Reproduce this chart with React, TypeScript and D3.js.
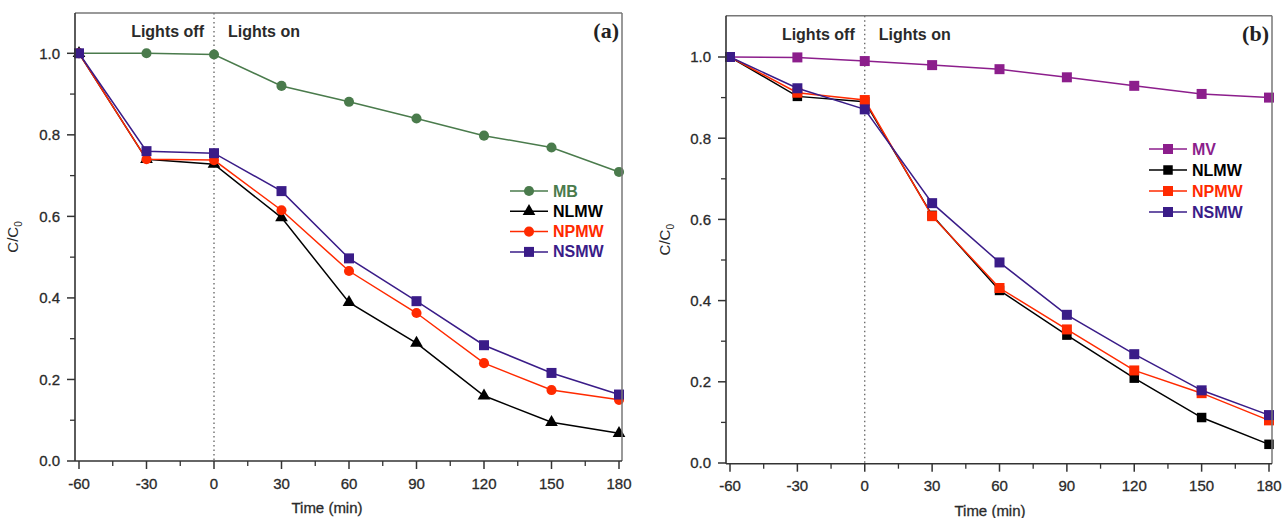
import React from "react";
import * as d3 from "d3";

// time axis (min)
const times = [-60, -30, 0, 30, 60, 90, 120, 150, 180];
const xTicks = [-60, -30, 0, 30, 60, 90, 120, 150, 180];
const yTicks = [0, 0.2, 0.4, 0.6, 0.8, 1.0];

// panel (a) C/C0 values
const mbA = [1.0, 1.0, 0.997, 0.92, 0.881, 0.84, 0.798, 0.769, 0.709];
const nlmwA = [1.0, 0.74, 0.728, 0.597, 0.389, 0.289, 0.16, 0.095, 0.068];
const npmwA = [1.0, 0.74, 0.738, 0.615, 0.466, 0.363, 0.24, 0.174, 0.15];
const nsmwA = [1.0, 0.76, 0.755, 0.662, 0.497, 0.392, 0.284, 0.216, 0.163];

// panel (b) C/C0 values
const mvB = [1.0, 0.999, 0.99, 0.98, 0.97, 0.95, 0.929, 0.909, 0.9];
const nlmwB = [1.0, 0.903, 0.89, 0.61, 0.425, 0.315, 0.209, 0.112, 0.046];
const npmwB = [1.0, 0.912, 0.894, 0.608, 0.431, 0.329, 0.228, 0.172, 0.105];
const nsmwB = [1.0, 0.923, 0.871, 0.64, 0.494, 0.365, 0.268, 0.179, 0.118];

const font = "'Liberation Sans', Arial, sans-serif";

type Series = {
  name: string;
  values: number[];
  color: string;
  symbol: d3.SymbolType;
  size: number;
};

const seriesA: Series[] = [
  { name: "MB", values: mbA, color: "#4a7b4c", symbol: d3.symbolCircle, size: 80 },
  { name: "NLMW", values: nlmwA, color: "#000000", symbol: d3.symbolTriangle, size: 70 },
  { name: "NPMW", values: npmwA, color: "#ff2a00", symbol: d3.symbolCircle, size: 80 },
  { name: "NSMW", values: nsmwA, color: "#3a1c88", symbol: d3.symbolSquare, size: 100 },
];

const seriesB: Series[] = [
  { name: "MV", values: mvB, color: "#8c1e8c", symbol: d3.symbolSquare, size: 100 },
  { name: "NLMW", values: nlmwB, color: "#000000", symbol: d3.symbolSquare, size: 90 },
  { name: "NPMW", values: npmwB, color: "#ff2a00", symbol: d3.symbolSquare, size: 100 },
  { name: "NSMW", values: nsmwB, color: "#3a1c88", symbol: d3.symbolSquare, size: 100 },
];

type PanelProps = {
  series: Series[];
  left: number;
  right: number;
  top: number;
  bottom: number;
  y0: number;
  y1: number;
  tag: string;
  legendX: number;
  legendY: number;
  legendStep: number;
  yTitleX: number;
  xTitleX: number;
};

function Panel(p: PanelProps) {
  const x = d3.scaleLinear().domain([-60, 180]).range([p.left + 4, p.right - 3]);
  const y = d3.scaleLinear().domain([0, 1]).range([p.y0, p.y1]);
  const minorX = d3.range(-45, 180, 30);
  const minorY = [0.1, 0.3, 0.5, 0.7, 0.9];
  const line = d3
    .line<number>()
    .x((d, i) => x(times[i]))
    .y((d) => y(d));

  return (
    <g>
      {/* lights off / on divider */}
      <line
        x1={x(0)}
        x2={x(0)}
        y1={p.top}
        y2={p.bottom}
        stroke="#555"
        strokeWidth={1.2}
        strokeDasharray="1.5,3"
      />
      <text x={x(0) - 10} y={p.top + 24} textAnchor="end" fontFamily={font} fontSize={16} fontWeight="bold" fill="#2a2a2a">
        Lights off
      </text>
      <text x={x(0) + 14} y={p.top + 24} fontFamily={font} fontSize={16} fontWeight="bold" fill="#2a2a2a">
        Lights on
      </text>

      {/* series */}
      {p.series.map((s) => (
        <g key={s.name}>
          <path d={line(s.values) || ""} fill="none" stroke={s.color} strokeWidth={1.5} />
          {s.values.map((v, i) => (
            <path
              key={i}
              d={d3.symbol().type(s.symbol).size(s.size)() || ""}
              transform={`translate(${x(times[i])},${y(v)})`}
              fill={s.color}
            />
          ))}
        </g>
      ))}

      {/* frame */}
      <line x1={p.left} x2={p.right} y1={p.top} y2={p.top} stroke="#777" strokeWidth={1.5} />
      <line x1={p.right} x2={p.right} y1={p.top} y2={p.bottom} stroke="#777" strokeWidth={1.5} />
      <line x1={p.left} x2={p.left} y1={p.top} y2={p.bottom} stroke="#333" strokeWidth={1.6} />
      <line x1={p.left} x2={p.right} y1={p.bottom} y2={p.bottom} stroke="#333" strokeWidth={1.6} />

      {/* y ticks */}
      {yTicks.map((t) => (
        <g key={t}>
          <line x1={p.left - 8} x2={p.left} y1={y(t)} y2={y(t)} stroke="#333" strokeWidth={1.5} />
          <text
            x={p.left - 15}
            y={y(t) + 5.4}
            textAnchor="end"
            fontFamily={font}
            fontSize={15}
            fill="#2a2a2a"
            stroke="#2a2a2a"
            strokeWidth={0.3}
          >
            {t.toFixed(1)}
          </text>
        </g>
      ))}
      {minorY.map((t) => (
        <line key={t} x1={p.left - 5} x2={p.left} y1={y(t)} y2={y(t)} stroke="#333" strokeWidth={1.3} />
      ))}

      {/* x ticks */}
      {xTicks.map((t) => (
        <g key={t}>
          <line x1={x(t)} x2={x(t)} y1={p.bottom} y2={p.bottom + 8} stroke="#333" strokeWidth={1.5} />
          <text
            x={x(t)}
            y={p.bottom + 27.5}
            textAnchor="middle"
            fontFamily={font}
            fontSize={15}
            fill="#2a2a2a"
            stroke="#2a2a2a"
            strokeWidth={0.3}
          >
            {t}
          </text>
        </g>
      ))}
      {minorX.map((t) => (
        <line key={t} x1={x(t)} x2={x(t)} y1={p.bottom} y2={p.bottom + 5} stroke="#333" strokeWidth={1.3} />
      ))}

      {/* axis titles */}
      <text
        x={p.xTitleX}
        y={p.bottom + 52}
        textAnchor="middle"
        fontFamily={font}
        fontSize={15}
        fill="#2a2a2a"
        stroke="#2a2a2a"
        strokeWidth={0.3}
      >
        Time (min)
      </text>
      <text
        transform={`translate(${p.yTitleX},${(p.top + p.bottom) / 2}) rotate(-90)`}
        textAnchor="middle"
        fontFamily={font}
        fontSize={15}
        fill="#2a2a2a"
      >
        C/C<tspan fontSize={10} dy={4}>0</tspan>
      </text>

      {/* panel tag */}
      <text
        x={p.right - 3}
        y={p.top + 25}
        textAnchor="end"
        fontFamily="'Liberation Serif', 'Times New Roman', serif"
        fontSize={22}
        fontWeight="bold"
        fill="#222"
      >
        {p.tag}
      </text>

      {/* legend */}
      {p.series.map((s, i) => {
        const ly = p.legendY + i * p.legendStep;
        return (
          <g key={s.name}>
            <line x1={p.legendX} x2={p.legendX + 38} y1={ly} y2={ly} stroke={s.color} strokeWidth={1.5} />
            <path
              d={d3.symbol().type(s.symbol).size(s.size)() || ""}
              transform={`translate(${p.legendX + 19},${ly})`}
              fill={s.color}
            />
            <text x={p.legendX + 43} y={ly + 5.5} fontFamily={font} fontSize={16} fontWeight="bold" fill={s.color}>
              {s.name}
            </text>
          </g>
        );
      })}
    </g>
  );
}

export default function App() {
  return (
    <svg
      width={1283}
      height={518}
      style={{ position: "absolute", left: 0, top: 0, background: "#fff" }}
    >
      <rect width={1283} height={518} fill="#fff" />
      <Panel
        series={seriesA}
        left={75}
        right={622}
        top={13}
        bottom={461}
        y0={461}
        y1={53.3}
        tag="(a)"
        legendX={510}
        legendY={191}
        legendStep={20.3}
        yTitleX={18}
        xTitleX={327}
      />
      <Panel
        series={seriesB}
        left={726}
        right={1272}
        top={15.7}
        bottom={463.7}
        y0={463}
        y1={57}
        tag="(b)"
        legendX={1149}
        legendY={149}
        legendStep={21}
        yTitleX={670}
        xTitleX={990}
      />
    </svg>
  );
}
